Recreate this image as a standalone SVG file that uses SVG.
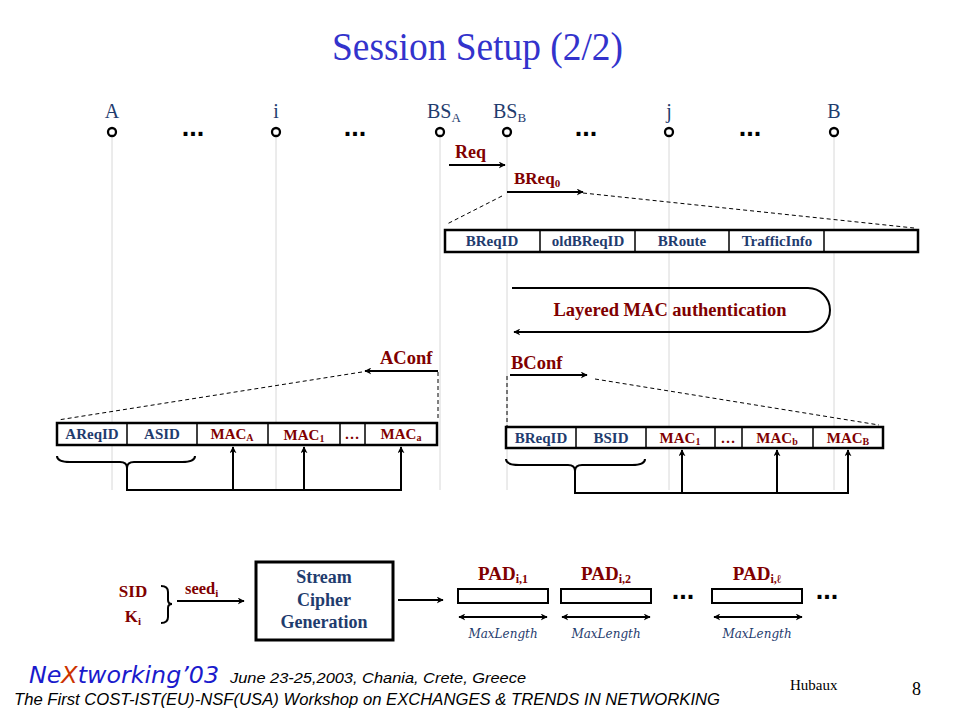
<svg xmlns="http://www.w3.org/2000/svg" width="960" height="720" viewBox="0 0 960 720">
<defs>
<marker id="ah" viewBox="0 0 10 10" refX="9" refY="5" markerWidth="7" markerHeight="7" markerUnits="userSpaceOnUse" orient="auto-start-reverse"><path d="M0,0 L10,5 L0,10 L3,5 z" fill="#000"/></marker>
<style>
.t{font-family:"Liberation Serif",serif}
.nl{font-family:"Liberation Serif",serif;font-size:20px;fill:#1f3c6e}
.red{font-family:"Liberation Serif",serif;font-weight:bold;fill:#800000}
.blu{font-family:"Liberation Serif",serif;font-weight:bold;fill:#1f3c6e}
.f{font-size:15px}
.box{fill:#fff;stroke:#000;stroke-width:2.5}
.div{stroke:#000;stroke-width:1.5}
.life{stroke:#d8d8d8;stroke-width:1}
.circ{fill:#fff;stroke:#000;stroke-width:2.3}
.arr{stroke:#000;stroke-width:2;fill:none}
.dash{stroke:#000;stroke-width:1;stroke-dasharray:4,3;fill:none}
.dots{font-family:"Liberation Sans",sans-serif;font-weight:bold;font-size:27px;fill:#000}
.ml{font-family:"DejaVu Serif","Liberation Serif",serif;font-style:italic;font-size:12px;fill:#1f3c6e}
</style>
</defs>
<rect width="960" height="720" fill="#fff"/>
<text x="332" y="60" class="t" font-size="40" textLength="291" lengthAdjust="spacingAndGlyphs" fill="#3333cc">Session Setup (2/2)</text>

<g id="lifelines">
<line class="life" x1="112" y1="136" x2="112" y2="490"/>
<line class="life" x1="276" y1="136" x2="276" y2="490"/>
<line class="life" x1="440" y1="136" x2="440" y2="490"/>
<line class="life" x1="507" y1="136" x2="507" y2="490"/>
<line class="life" x1="669" y1="136" x2="669" y2="490"/>
<line class="life" x1="834" y1="136" x2="834" y2="490"/>
</g>

<g id="node-A"><text class="nl" x="112" y="118" text-anchor="middle">A</text><circle class="circ" cx="112" cy="132" r="4"/></g>
<g id="node-i"><text class="nl" x="276" y="118" text-anchor="middle">i</text><circle class="circ" cx="276" cy="132" r="4"/></g>
<g id="node-BSA"><text class="nl" x="427" y="118">BS<tspan font-size="13" dy="4">A</tspan></text><circle class="circ" cx="440" cy="132" r="4"/></g>
<g id="node-BSB"><text class="nl" x="493" y="118">BS<tspan font-size="13" dy="4">B</tspan></text><circle class="circ" cx="507" cy="132" r="4"/></g>
<g id="node-j"><text class="nl" x="669" y="118" text-anchor="middle">j</text><circle class="circ" cx="669" cy="132" r="4"/></g>
<g id="node-B"><text class="nl" x="834" y="118" text-anchor="middle">B</text><circle class="circ" cx="834" cy="132" r="4"/></g>

<g id="ellipses">
<text class="dots" x="193" y="136" text-anchor="middle">...</text>
<text class="dots" x="355" y="136" text-anchor="middle">...</text>
<text class="dots" x="586" y="136" text-anchor="middle">...</text>
<text class="dots" x="750" y="136" text-anchor="middle">...</text>
</g>

<g id="connectors">
<line class="arr" x1="449" y1="165" x2="505" y2="165" marker-end="url(#ah)"/>
<line class="arr" x1="507" y1="192" x2="583" y2="192" marker-end="url(#ah)"/>
<line class="dash" x1="583" y1="193" x2="914" y2="228"/>
<line class="dash" x1="502" y1="196" x2="447" y2="224"/>
<path class="arr" d="M512,288 H808 A22,22 0 0 1 808,332 H514" marker-end="url(#ah)"/>
<line class="arr" x1="438" y1="371" x2="365" y2="371" marker-end="url(#ah)"/>
<line class="dash" x1="438" y1="372" x2="438" y2="421"/>
<line class="dash" x1="362" y1="372" x2="58" y2="420"/>
<line class="arr" x1="510" y1="375" x2="587" y2="375" marker-end="url(#ah)"/>
<line class="dash" x1="507" y1="376" x2="507" y2="427"/>
<line class="dash" x1="595" y1="379" x2="879" y2="425"/>
<path class="arr" d="M57,456 Q57,462 70,462 H120 Q127,462 127,468 Q127,462 134,462 H182 Q195,462 195,456"/>
<path class="arr" d="M127,468 V490 H401"/>
<line class="arr" x1="233" y1="490" x2="233" y2="447" marker-end="url(#ah)"/>
<line class="arr" x1="304" y1="490" x2="304" y2="447" marker-end="url(#ah)"/>
<line class="arr" x1="401" y1="491" x2="401" y2="447" marker-end="url(#ah)"/>
<path class="arr" d="M506,459 Q506,465 519,465 H568 Q575,465 575,471 Q575,465 582,465 H632 Q645,465 645,459"/>
<path class="arr" d="M575,471 V493 H848"/>
<line class="arr" x1="682" y1="493" x2="682" y2="450" marker-end="url(#ah)"/>
<line class="arr" x1="777" y1="493" x2="777" y2="450" marker-end="url(#ah)"/>
<line class="arr" x1="848" y1="494" x2="848" y2="450" marker-end="url(#ah)"/>
<path class="arr" d="M161,586 Q168,586 168,592 V600 Q168,604 172,604 Q168,604 168,608 V617 Q168,623 161,623"/>
<line class="arr" x1="177" y1="601" x2="244" y2="601" marker-end="url(#ah)"/>
<line class="arr" x1="398" y1="600" x2="443" y2="600" marker-end="url(#ah)"/>
<line class="arr" x1="459" y1="617" x2="547" y2="617" marker-start="url(#ah)" marker-end="url(#ah)"/>
<line class="arr" x1="562" y1="617" x2="650" y2="617" marker-start="url(#ah)" marker-end="url(#ah)"/>
<line class="arr" x1="714" y1="617" x2="802" y2="617" marker-start="url(#ah)" marker-end="url(#ah)"/>
</g>

<g id="labels">
<text class="red" x="455" y="158" font-size="18">Req</text>
<text class="red" x="514" y="184" font-size="17">BReq<tspan font-size="11" dy="3">0</tspan></text>
<text class="red" x="670" y="316" font-size="18.5" text-anchor="middle">Layered MAC authentication</text>
<text class="red" x="380" y="364" font-size="18.5">AConf</text>
<text class="red" x="511" y="369" font-size="18.5">BConf</text>
</g>

<g id="breq-packet">
<rect class="box" x="445" y="230" width="473" height="22"/>
<line class="div" x1="540" y1="230" x2="540" y2="252"/>
<line class="div" x1="635" y1="230" x2="635" y2="252"/>
<line class="div" x1="729" y1="230" x2="729" y2="252"/>
<line class="div" x1="824" y1="230" x2="824" y2="252"/>
<text class="blu f" x="492" y="246" text-anchor="middle">BReqID</text>
<text class="blu f" x="588" y="246" text-anchor="middle">oldBReqID</text>
<text class="blu f" x="682" y="246" text-anchor="middle">BRoute</text>
<text class="blu f" x="777" y="246" text-anchor="middle">TrafficInfo</text>
</g>

<g id="aconf-packet">
<rect class="box" x="57" y="423" width="380" height="22"/>
<line class="div" x1="127" y1="423" x2="127" y2="445"/>
<line class="div" x1="197" y1="423" x2="197" y2="445"/>
<line class="div" x1="268" y1="423" x2="268" y2="445"/>
<line class="div" x1="340" y1="423" x2="340" y2="445"/>
<line class="div" x1="365" y1="423" x2="365" y2="445"/>
<text class="blu f" x="92" y="439" text-anchor="middle">AReqID</text>
<text class="blu f" x="162" y="439" text-anchor="middle">ASID</text>
<text class="red f" x="232" y="439" text-anchor="middle">MAC<tspan font-size="10" dy="2">A</tspan></text>
<text class="red f" x="304" y="440" text-anchor="middle">MAC<tspan font-size="10" dy="2">1</tspan></text>
<text class="red f" x="352" y="439" text-anchor="middle">…</text>
<text class="red f" x="401" y="439" text-anchor="middle">MAC<tspan font-size="10" dy="2">a</tspan></text>
</g>

<g id="bconf-packet">
<rect class="box" x="506" y="427" width="377" height="21"/>
<line class="div" x1="576" y1="427" x2="576" y2="448"/>
<line class="div" x1="646" y1="427" x2="646" y2="448"/>
<line class="div" x1="715" y1="427" x2="715" y2="448"/>
<line class="div" x1="742" y1="427" x2="742" y2="448"/>
<line class="div" x1="813" y1="427" x2="813" y2="448"/>
<text class="blu f" x="541" y="443" text-anchor="middle">BReqID</text>
<text class="blu f" x="611" y="443" text-anchor="middle">BSID</text>
<text class="red f" x="680" y="443" text-anchor="middle">MAC<tspan font-size="10" dy="2">1</tspan></text>
<text class="red f" x="728" y="443" text-anchor="middle">…</text>
<text class="red f" x="777" y="443" text-anchor="middle">MAC<tspan font-size="10" dy="2">b</tspan></text>
<text class="red f" x="848" y="443" text-anchor="middle">MAC<tspan font-size="10" dy="2">B</tspan></text>
</g>

<g id="seed">
<text class="red" x="133" y="597" font-size="17" text-anchor="middle">SID</text>
<text class="red" x="133" y="622" font-size="17" text-anchor="middle">K<tspan font-size="11" dy="3">i</tspan></text>
<text class="red" x="185" y="594" font-size="16.5">seed<tspan font-size="11" dy="3">i</tspan></text>
</g>

<g id="stream-cipher">
<rect x="256" y="562" width="137" height="78" fill="#fff" stroke="#000" stroke-width="3"/>
<text class="blu" x="324" y="583" font-size="18" text-anchor="middle">Stream</text>
<text class="blu" x="324" y="606" font-size="18" text-anchor="middle">Cipher</text>
<text class="blu" x="324" y="628" font-size="18" text-anchor="middle">Generation</text>
</g>

<g id="pad1">
<rect x="458" y="589" width="90" height="14" fill="#fff" stroke="#000" stroke-width="2"/>
<text class="red" x="503" y="580" font-size="19" text-anchor="middle">PAD<tspan font-size="12" dy="3">i,1</tspan></text>
<text class="ml" x="503" y="638" text-anchor="middle">MaxLength</text>
</g>
<g id="pad2">
<rect x="561" y="589" width="90" height="14" fill="#fff" stroke="#000" stroke-width="2"/>
<text class="red" x="606" y="580" font-size="19" text-anchor="middle">PAD<tspan font-size="12" dy="3">i,2</tspan></text>
<text class="ml" x="606" y="638" text-anchor="middle">MaxLength</text>
</g>
<g id="padl">
<rect x="712" y="589" width="90" height="14" fill="#fff" stroke="#000" stroke-width="2"/>
<text class="red" x="757" y="580" font-size="19" text-anchor="middle">PAD<tspan font-size="12" dy="3">i,ℓ</tspan></text>
<text class="ml" x="757" y="638" text-anchor="middle">MaxLength</text>
</g>
<text class="dots" x="683" y="599" text-anchor="middle">...</text>
<text class="dots" x="827" y="599" text-anchor="middle">...</text>

<g id="footer">
<text x="29" y="683" font-family="'DejaVu Sans','Liberation Sans',sans-serif" font-style="italic" font-size="23" textLength="190" lengthAdjust="spacingAndGlyphs" fill="#1a1acc">Ne<tspan fill="#cc3300">X</tspan>tworking’03</text>
<text x="230" y="683" font-family="'Liberation Sans',sans-serif" font-style="italic" font-size="15" textLength="296" lengthAdjust="spacingAndGlyphs" fill="#000">June 23-25,2003, Chania, Crete, Greece</text>
<text x="14" y="705" font-family="'Liberation Sans',sans-serif" font-style="italic" font-size="16" textLength="706" lengthAdjust="spacingAndGlyphs" fill="#000">The First COST-IST(EU)-NSF(USA) Workshop on EXCHANGES &amp; TRENDS IN NETWORKING</text>
<text x="790" y="690" class="t" font-size="15" fill="#000">Hubaux</text>
<text x="912" y="695" class="t" font-size="18" fill="#000">8</text>
</g>
</svg>
